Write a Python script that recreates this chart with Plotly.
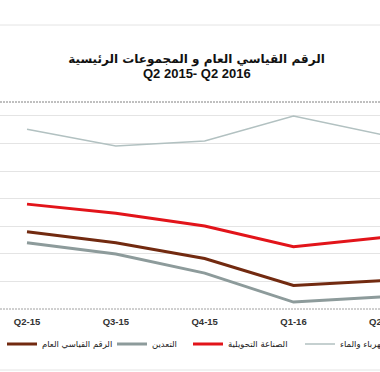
import plotly.graph_objects as go

quarters = ["Q2-15", "Q3-15", "Q4-15", "Q1-16", "Q2-16"]
general = [88.0, 84.0, 78.3, 68.5, 70.3]
mining = [84.0, 79.9, 73.0, 62.5, 64.4]
manufacturing = [98.0, 94.7, 90.1, 82.6, 85.9]
electricity = [125.1, 119.1, 120.9, 129.9, 123.1]
series_names = ["الرقم القياسي العام", "التعدين", "الصناعة التحويلية", "الكهرباء والماء"]
title_line1 = "الرقم القياسي العام و المجموعات الرئيسية"
title_line2 = "Q2 2015- Q2 2016"

W, H = 380, 372
T, B = 102, 63
PH = H - T - B

def py(pix):
    return (H - B - pix) / PH

fig = go.Figure()
styles = [
    (general, "#722a10", 3, "legend"),
    (mining, "#8d9b9b", 3, "legend2"),
    (manufacturing, "#e2141a", 3, "legend3"),
    (electricity, "#b2c1c1", 1.5, "legend4"),
]
order = [3, 1, 0, 2]
for i in order:
    vals, col, w, lg = styles[i]
    fig.add_trace(go.Scatter(x=quarters, y=vals, mode="lines", name=series_names[i],
                             line=dict(color=col, width=w), legend=lg))

legend_x = [2, 112, 188, 300]
lfont = dict(family="DejaVu Sans, sans-serif", size=8.5, color="#222")
leg = {}
for k, lx in zip(["legend", "legend2", "legend3", "legend4"], legend_x):
    leg[k] = dict(x=lx / W, y=py(344), xanchor="left", yanchor="middle",
                  orientation="h", bgcolor="rgba(0,0,0,0)", font=lfont,
                  borderwidth=0)

tick_font = dict(family="Liberation Sans, Arial", size=9.5, color="#333", weight="bold")

fig.update_layout(
    width=W, height=H,
    margin=dict(l=0, r=0, t=T, b=B, autoexpand=False),
    paper_bgcolor="white", plot_bgcolor="white",
    showlegend=True,
    title=dict(text="<b>" + title_line1 + "</b>", x=196.5 / W, xanchor="center",
               y=1 - 59 / H, yanchor="middle",
               font=dict(family="DejaVu Sans, sans-serif", size=12, color="#111")),
    xaxis=dict(type="category", range=[-0.304, 3.974], showgrid=False, zeroline=False,
               showline=False, ticks="", ticklabelstandoff=5, tickfont=tick_font),
    yaxis=dict(range=[60, 135], tick0=60, dtick=10, showgrid=True, gridcolor="#e4e4e4",
               gridwidth=1, zeroline=False, showticklabels=False, showline=False),
    annotations=[
        dict(text="<b>" + title_line2 + "</b>", xref="paper", yref="paper", x=196.5 / W, y=py(73),
             xanchor="center", yanchor="middle", showarrow=False,
             font=dict(family="Liberation Sans, Arial", size=13, color="#111")),
        dict(text=quarters[4], xref="paper", yref="paper", x=382.3 / W, y=py(321.7),
             xanchor="center", yanchor="middle", showarrow=False, font=tick_font),
    ],
    shapes=[
        dict(type="line", xref="paper", yref="paper", x0=0, x1=1, y0=1, y1=1,
             line=dict(color="#808080", width=1, dash="2px,1px")),
        dict(type="line", xref="paper", yref="paper", x0=0, x1=1, y0=0, y1=0,
             line=dict(color="#a0a0a0", width=1, dash="2px,1px")),
        dict(type="line", xref="paper", yref="paper", x0=0, x1=1, y0=py(25), y1=py(25),
             line=dict(color="#e4e4e4", width=1)),
        dict(type="line", xref="paper", yref="paper", x0=0, x1=1, y0=py(370), y1=py(370),
             line=dict(color="#e4e4e4", width=1)),
    ],
    **leg,
)

fig.write_html("out.html", config={"displayModeBar": False},
               post_script="document.body.style.margin='0';")
